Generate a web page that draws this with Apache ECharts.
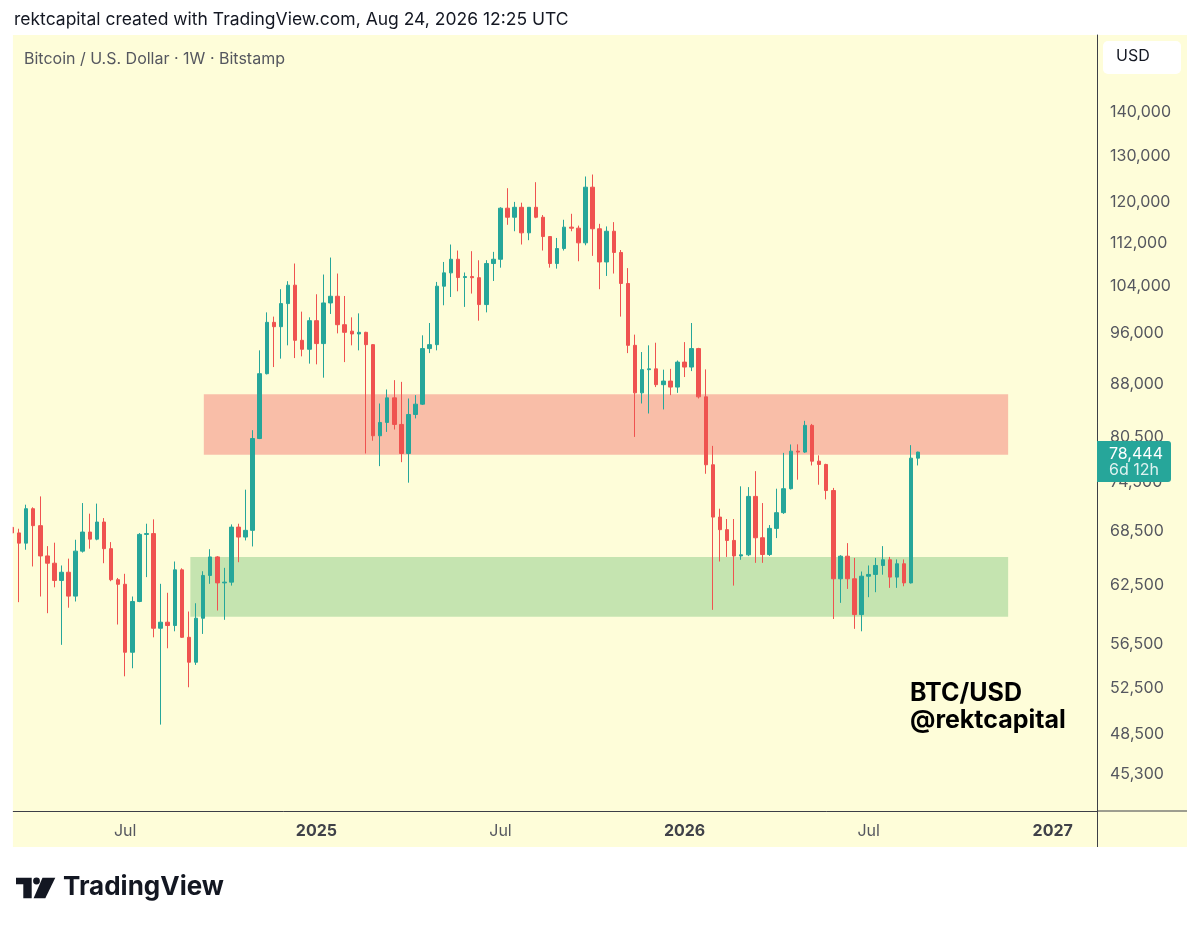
<!DOCTYPE html>
<html>
<head>
<meta charset="utf-8">
<script src="https://cdn.jsdelivr.net/npm/echarts@6/dist/echarts.min.js"></script>
<style>
  html, body { margin: 0; padding: 0; background: #ffffff; }
  #chart { width: 1200px; height: 927px; }
</style>
</head>
<body>
<div id="chart"></div>
<script>
// weekly candles, index 0 = week of 2024-03-11 (BTC/USD, Bitstamp)
const opens = [
  69000, 68350, 67170, 71230, 69200, 65720, 64910, 63030, 63920, 61370,
  66260, 68450, 67630, 69630, 66540, 63110, 62620, 55770, 60810, 68180,
  68270, 58100, 58700, 58370, 64180, 57210, 54830, 59100, 63570, 65610,
  62770, 62850, 69030, 67870, 68650, 80280, 89660, 97860, 97140, 101040,
  104260, 94910, 93470, 98140, 94380, 101150, 102310, 97470, 96400, 95940,
  96210, 94210, 80660, 82510, 86040, 82230, 78260, 83640, 85120, 93580,
  94210, 104080, 106470, 108970, 105630, 105800, 105600, 100870, 108180, 108970,
  118880, 117060, 119060, 113990, 119060, 117060, 113270, 108180, 110980, 115100,
  114900, 112060, 123210, 114780, 108470, 114300, 110240, 104560, 94100, 86780,
  90280, 90400, 88000, 88540, 87640, 91450, 90680, 93580, 86190, 76770,
  70220, 68730, 67480, 65720, 65850, 72740, 67790, 65880, 68880, 70750,
  73700, 78570, 78450, 82100, 77240, 76810, 73470, 63210, 65690, 63210,
  59470, 63490, 63680, 64660, 65290, 63390, 64850, 62770, 77640
];
const closes = [
  68350, 67170, 71230, 69200, 65720, 64910, 63030, 63920, 61370, 66260,
  68450, 67630, 69630, 66540, 63110, 62620, 55770, 60810, 68180, 68270,
  58100, 58700, 58370, 64180, 57210, 54830, 59100, 63570, 65610, 62770,
  62850, 69030, 67870, 68650, 80280, 89660, 97860, 97140, 101040, 104260,
  94910, 93470, 98140, 94380, 101150, 102310, 97470, 96210, 95940, 96210,
  94210, 80660, 82510, 86040, 82230, 78260, 83640, 85120, 93580, 94210,
  104080, 106470, 108970, 105630, 105800, 105600, 100870, 108180, 108970, 118880,
  117060, 119060, 113990, 119060, 117060, 113270, 108180, 110980, 115100, 114900,
  112060, 123210, 114780, 108470, 114300, 110240, 104560, 94100, 86780, 90280,
  90400, 88000, 88540, 87640, 91450, 90680, 93580, 86190, 76770, 70220,
  68730, 67480, 65720, 65850, 72740, 67790, 65880, 68880, 70750, 73700,
  78570, 78450, 82100, 77240, 76810, 73470, 63210, 65690, 63210, 59470,
  63490, 63680, 64660, 65290, 63390, 64850, 62770, 77640, 78444
];
const lows = [
  64600, 60740, 66420, 64550, 61330, 59610, 62300, 56480, 60170, 60810,
  66100, 66540, 67500, 64910, 62950, 58470, 53530, 54270, 60740, 63390,
  57210, 49300, 56150, 57800, 57150, 52540, 54580, 57540, 62670, 59880,
  58940, 62480, 65020, 67480, 66790, 80200, 89550, 90680, 91990, 94100,
  92080, 92350, 91210, 91100, 89050, 99270, 96040, 91450, 94100, 93300,
  78260, 79980, 76590, 81190, 81520, 77110, 74460, 83080, 85000, 92860,
  93300, 100750, 102180, 103180, 100470, 102780, 98140, 99540, 105010, 107420,
  115560, 114300, 111740, 112570, 116860, 110600, 107420, 107240, 110600, 114300,
  108600, 111600, 109600, 103550, 105910, 106350, 98820, 92860, 80500, 85220,
  83780, 87640, 84360, 86440, 86780, 89150, 90060, 85950, 75600, 59950,
  65100, 65610, 62480, 65290, 65700, 64950, 64950, 65720, 67750, 70600,
  73600, 74840, 78340, 76680, 74200, 72370, 59020, 60670, 62130, 58040,
  57800, 61260, 61780, 63650, 62240, 62240, 62410, 62700, 76680
];
const highs = [
  73600, 68840, 71720, 71400, 72740, 66830, 67220, 64660, 65420, 67560,
  71920, 70630, 71850, 70100, 67290, 63300, 63750, 61330, 68330, 69430,
  69950, 62670, 61720, 65100, 64350, 59780, 60630, 64030, 66480, 65700,
  64400, 69350, 69430, 73580, 81430, 93300, 99540, 98820, 103550, 104970,
  108180, 99660, 98700, 102660, 106170, 109290, 106350, 102360, 98700, 99370,
  96300, 94300, 85220, 87280, 88680, 88420, 85950, 86440, 95720, 97750,
  104840, 108470, 111740, 110600, 106540, 110480, 108780, 108800, 110350, 119060,
  123000, 120160, 120000, 119100, 124270, 117500, 113300, 113000, 116560, 117750,
  115400, 125480, 125900, 115750, 115240, 116090, 110700, 107340, 95830, 93030,
  94100, 94520, 90280, 90400, 91700, 94620, 97750, 93700, 90320, 79280,
  71230, 69990, 69990, 74000, 73900, 75940, 71920, 69270, 73700, 78340,
  79470, 79490, 82740, 82300, 78010, 76900, 73800, 65800, 67170, 65500,
  64000, 64660, 65500, 66830, 65610, 65330, 65330, 79380, 78500
];

// time axis labels (week index -> text)
const xTickWeeks = [16, 43, 69, 95, 121, 147];
const xTickLabels = ['Jul', '2025', 'Jul', '2026', 'Jul', '2027'];
// price axis labels
const yTicks = [45300, 48500, 52500, 56500, 62500, 68500, 74500, 80500,
  88000, 96000, 104000, 112000, 120000, 130000, 140000];

// resistance / support zones [fromWeek, toWeek, low, high]
const resistZone = [27.1, 140.7, 78100, 86570];
const supportZone = [25.2, 140.7, 59260, 65610];

const lastPrice = 78444;

const UP = '#26a69a';
const DOWN = '#ef5350';
const BG = '#fefdd9';
const LINE = '#3d3f47';
const FONT = 'Inter, "Liberation Sans", sans-serif';

const candles = opens.map((o, i) => [i, o, closes[i], lows[i], highs[i]]);

const chart = echarts.init(document.getElementById('chart'));

chart.setOption({
  backgroundColor: '#ffffff',
  animation: false,
  grid: { left: 13, right: 103, top: 35, bottom: 116 },
  xAxis: {
    type: 'value',
    min: 0.15,
    max: 153.25,
    axisLine: { show: true, onZero: false, lineStyle: { color: LINE, width: 1 } },
    axisTick: { show: false },
    splitLine: { show: false },
    axisLabel: {
      customValues: xTickWeeks,
      margin: 12,
      fontFamily: FONT,
      fontSize: 16,
      formatter: function (v) {
        const t = xTickLabels[xTickWeeks.indexOf(Math.round(v))] || '';
        return /^\d/.test(t) ? '{yr|' + t + '}' : '{mo|' + t + '}';
      },
      rich: {
        yr: { fontFamily: FONT, fontSize: 16, fontWeight: 'bold', color: '#404249' },
        mo: { fontFamily: FONT, fontSize: 16, color: '#55575f' }
      }
    }
  },
  yAxis: {
    type: 'log',
    logBase: 10,
    min: 42550,
    max: 159700,
    position: 'right',
    axisLine: { show: true, onZero: false, lineStyle: { color: LINE, width: 1 } },
    axisTick: { show: false },
    splitLine: { show: false },
    axisLabel: {
      customValues: yTicks,
      margin: 13,
      fontFamily: FONT,
      fontSize: 16,
      color: '#55575f',
      formatter: v => Math.round(v).toLocaleString('en-US')
    }
  },
  series: [
    {
      type: 'line',
      data: [],
      z: 1,
      silent: true,
      markArea: {
        silent: true,
        data: [
          [{ xAxis: resistZone[0], yAxis: resistZone[2], itemStyle: { color: '#f9bea8' } },
           { xAxis: resistZone[1], yAxis: resistZone[3] }],
          [{ xAxis: supportZone[0], yAxis: supportZone[2], itemStyle: { color: '#c5e4b0' } },
           { xAxis: supportZone[1], yAxis: supportZone[3] }]
        ]
      }
    },
    {
      type: 'candlestick',
      z: 5,
      barWidth: 4,
      encode: { x: 0, y: [1, 2, 3, 4] },
      data: candles,
      itemStyle: {
        color: UP,
        color0: DOWN,
        borderColor: UP,
        borderColor0: DOWN,
        borderWidth: 1
      }
    }
  ]
});

const py = chart.convertToPixel({ gridIndex: 0 }, [10, lastPrice])[1];

chart.setOption({
  graphic: [
    // panel background
    { type: 'rect', z: -10, silent: true,
      shape: { x: 12.7, y: 35, width: 1174.3, height: 812 },
      style: { fill: BG } },
    // page margin left of the pane (hides the cut-off first candle's left half)
    { type: 'rect', z: 50, silent: true,
      shape: { x: 0, y: 35, width: 12.7, height: 812 },
      style: { fill: '#ffffff' } },
    // lines continuing through the axis corner
    { type: 'line', z: 10, silent: true,
      shape: { x1: 1097, y1: 811, x2: 1187, y2: 811 },
      style: { stroke: LINE, lineWidth: 1 } },
    { type: 'line', z: 10, silent: true,
      shape: { x1: 1097.5, y1: 811, x2: 1097.5, y2: 847 },
      style: { stroke: LINE, lineWidth: 1 } },
    // header
    { type: 'text', left: 14, top: 11, z: 10,
      style: { text: 'rektcapital created with TradingView.com, Aug 24, 2026 12:25 UTC',
        font: '17.5px ' + FONT, fill: '#131722' } },
    { type: 'text', left: 24, top: 51, z: 10,
      style: { text: 'Bitcoin / U.S. Dollar · 1W · Bitstamp',
        font: '16px ' + FONT, fill: '#55575f' } },
    // currency button
    { type: 'rect', z: 10, silent: true,
      shape: { x: 1103, y: 41, width: 78, height: 33, r: 5 },
      style: { fill: '#ffffff' } },
    { type: 'text', left: 1116, top: 48, z: 11,
      style: { text: 'USD', font: '16px ' + FONT, fill: '#131722' } },
    // last price tag
    { type: 'rect', z: 100, silent: true,
      shape: { x: 1097, y: py - 11, width: 74, height: 41, r: [0, 3, 3, 0] },
      style: { fill: UP } },
    { type: 'text', x: 1109, y: py + 2, z: 101,
      style: { text: lastPrice.toLocaleString('en-US'), font: '16px ' + FONT,
        fill: '#ffffff', textVerticalAlign: 'middle' } },
    { type: 'text', x: 1109, y: py + 18, z: 101,
      style: { text: '6d 12h', font: '16px ' + FONT,
        fill: 'rgba(255,255,255,0.85)', textVerticalAlign: 'middle' } },
    // author note
    { type: 'text', left: 910, top: 680, z: 20,
      style: { text: 'BTC/USD\n@rektcapital', font: 'bold 25px ' + FONT,
        lineHeight: 27, fill: '#000000' } },
    // TradingView logo
    { type: 'polygon', z: 10, silent: true,
      shape: { points: [[16, 877.7], [31.7, 877.7], [31.7, 898.3], [23.3, 898.3], [23.3, 884.3], [16, 884.3]] },
      style: { fill: '#131722' } },
    { type: 'circle', z: 10, silent: true,
      shape: { cx: 36.5, cy: 881, r: 3.4 },
      style: { fill: '#131722' } },
    { type: 'polygon', z: 10, silent: true,
      shape: { points: [[42.5, 877.7], [55.3, 877.7], [45.3, 898.3], [33.6, 898.3]] },
      style: { fill: '#131722' } },
    { type: 'text', left: 63, top: 874, z: 10,
      style: { text: 'TradingView', font: 'bold 26px ' + FONT, fill: '#131722' } }
  ]
});
</script>
</body>
</html>
